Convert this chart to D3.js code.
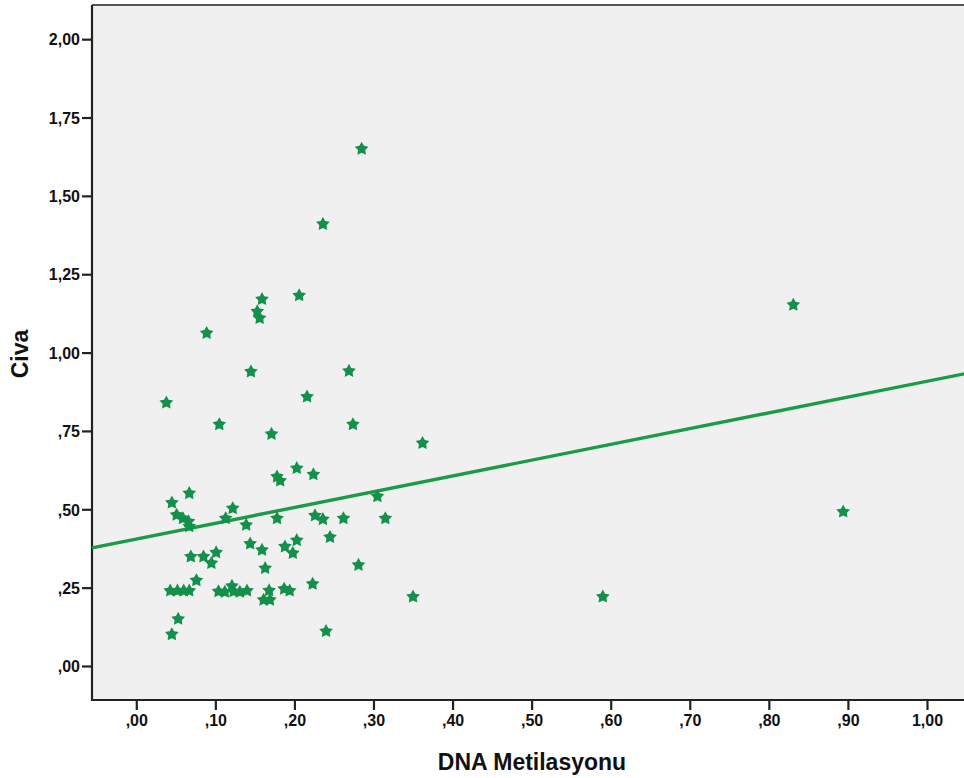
<!DOCTYPE html>
<html>
<head>
<meta charset="utf-8">
<script src="https://cdn.jsdelivr.net/npm/d3@7"></script>
<style>
  body { margin: 0; background: #fff; }
  svg { display: block; font-family: "Liberation Sans", Arial, sans-serif; }
</style>
</head>
<body>
<div id="chart"></div>
<script>
// DNA Metilasyonu (x) vs Civa (y)
const dnaMet = [
  0.285, 0.236, 0.159, 0.153, 0.156, 0.206, 0.089, 0.831, 0.145, 0.269,
  0.038, 0.216, 0.105, 0.274, 0.171, 0.362, 0.178, 0.182, 0.203, 0.224,
  0.045, 0.067, 0.051, 0.059, 0.066, 0.067, 0.122, 0.113, 0.139, 0.178,
  0.226, 0.236, 0.262, 0.305, 0.315, 0.894, 0.245, 0.069, 0.085, 0.101,
  0.095, 0.144, 0.159, 0.188, 0.203, 0.198, 0.163, 0.281, 0.076, 0.043,
  0.052, 0.060, 0.067, 0.104, 0.112, 0.121, 0.123, 0.131, 0.140, 0.161,
  0.169, 0.168, 0.187, 0.194, 0.223, 0.350, 0.590, 0.053, 0.045, 0.240
];
const civa = [
  1.650, 1.410, 1.170, 1.131, 1.110, 1.182, 1.062, 1.152, 0.939, 0.941,
  0.840, 0.859, 0.771, 0.771, 0.740, 0.711, 0.604, 0.591, 0.631, 0.611,
  0.521, 0.551, 0.482, 0.471, 0.461, 0.445, 0.503, 0.471, 0.450, 0.471,
  0.480, 0.468, 0.471, 0.541, 0.471, 0.492, 0.411, 0.349, 0.349, 0.362,
  0.328, 0.390, 0.370, 0.381, 0.401, 0.360, 0.312, 0.322, 0.273, 0.240,
  0.240, 0.240, 0.240, 0.238, 0.236, 0.255, 0.238, 0.236, 0.240, 0.211,
  0.211, 0.241, 0.246, 0.240, 0.262, 0.221, 0.221, 0.150, 0.101, 0.111
];
// fitted line: [intercept, slope]
const fitLine = [0.405, 0.5035];

const xTicks = [0, 0.1, 0.2, 0.3, 0.4, 0.5, 0.6, 0.7, 0.8, 0.9, 1.0];
const yTicks = [0, 0.25, 0.5, 0.75, 1.0, 1.25, 1.5, 1.75, 2.0];

const W = 964, H = 778;
const plotL = 92, plotT = 5, plotB = 700;

const x = d3.scaleLinear().domain([-0.056, 1.06]).range([plotL, plotL + 1.116 * 790.7]);
const y = d3.scaleLinear().domain([-0.1085, 2.109]).range([plotB, plotT]);
const plotR = x.range()[1];

// spss style labels: ",25" and "1,00"
const fmt = v => d3.format(".2f")(v).replace(".", ",").replace(/^0,/, ",");

const svg = d3.select("#chart").append("svg")
  .attr("width", W).attr("height", H);

svg.append("rect")
  .attr("x", plotL).attr("y", plotT)
  .attr("width", plotR - plotL).attr("height", plotB - plotT)
  .attr("fill", "#f0f0f0");

// top frame line
svg.append("line")
  .attr("x1", plotL).attr("x2", plotR)
  .attr("y1", plotT).attr("y2", plotT)
  .attr("stroke", "#555").attr("stroke-width", 1.8);

// axes
const yAxis = svg.append("g")
  .attr("transform", `translate(${plotL},0)`)
  .call(d3.axisLeft(y).tickValues(yTicks).tickFormat(fmt).tickSize(10).tickPadding(2));
const xAxis = svg.append("g")
  .attr("transform", `translate(0,${plotB})`)
  .call(d3.axisBottom(x).tickValues(xTicks).tickFormat(fmt).tickSize(10).tickPadding(5));

[yAxis, xAxis].forEach(a => {
  a.select(".domain").remove();
  a.selectAll(".tick line").attr("stroke", "#222").attr("stroke-width", 2.2);
  a.selectAll(".tick text")
    .attr("fill", "#111")
    .attr("font-size", "16px")
    .attr("font-weight", "bold")
    .attr("font-family", "'Liberation Sans', Arial, sans-serif");
});
yAxis.selectAll(".tick text").attr("dy", "0.36em");

svg.append("line")
  .attr("x1", plotL).attr("x2", plotL)
  .attr("y1", plotT).attr("y2", plotB + 1)
  .attr("stroke", "#222").attr("stroke-width", 2.2);
svg.append("line")
  .attr("x1", plotL - 1).attr("x2", plotR)
  .attr("y1", plotB).attr("y2", plotB)
  .attr("stroke", "#222").attr("stroke-width", 2.2);

// axis titles
svg.append("text")
  .attr("x", 532).attr("y", 770)
  .attr("text-anchor", "middle")
  .attr("font-size", "23px").attr("font-weight", "bold").attr("fill", "#111")
  .text("DNA Metilasyonu");
svg.append("text")
  .attr("transform", "translate(28,354) rotate(-90)")
  .attr("text-anchor", "middle")
  .attr("font-size", "23px").attr("font-weight", "bold").attr("fill", "#111")
  .text("Civa");

// regression line
const xd = x.domain();
svg.append("line")
  .attr("x1", x(xd[0])).attr("y1", y(fitLine[0] + fitLine[1] * xd[0]))
  .attr("x2", x(xd[1])).attr("y2", y(fitLine[0] + fitLine[1] * xd[1]))
  .attr("stroke", "#1b9a47").attr("stroke-width", 3.4);

// star markers
function starPath(ro, ri) {
  const pts = d3.range(10).map(i => {
    const a = -Math.PI / 2 + i * Math.PI / 5;
    const r = i % 2 ? ri : ro;
    return [r * Math.cos(a), r * Math.sin(a)];
  });
  return d3.line().curve(d3.curveLinearClosed)(pts);
}
const star = starPath(7.2, 3.8);

svg.append("g").selectAll("path")
  .data(d3.zip(dnaMet, civa))
  .enter().append("path")
    .attr("d", star)
    .attr("transform", d => `translate(${x(d[0])},${y(d[1])})`)
    .attr("fill", "#13904a");
</script>
</body>
</html>
